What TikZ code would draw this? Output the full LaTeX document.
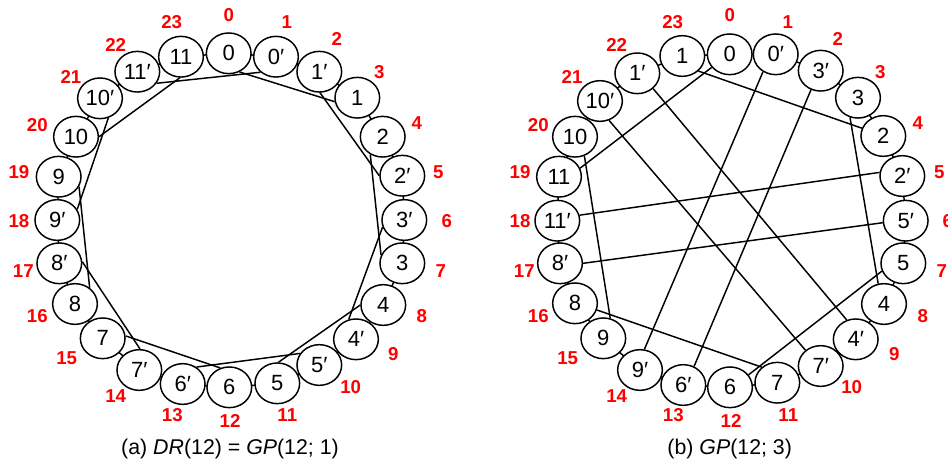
\documentclass[tikz,border=0pt]{standalone}
\usepackage{fontspec}
\setmainfont{Liberation Sans}
\usetikzlibrary{shapes.geometric,backgrounds}
\tikzset{
  vert/.style={ellipse,draw,fill=white,line width=1.1pt,minimum width=33.5pt,minimum height=30.5pt,inner sep=0pt,font=\fontsize{16.5}{18}\selectfont},
  lab/.style={text=red,font=\fontsize{14}{16}\selectfont\bfseries,inner sep=0pt},
  captext/.style={font=\fontsize{16}{18}\selectfont,inner sep=0pt},
  chord/.style={line width=1.1pt}
}
\begin{document}
\begin{tikzpicture}[x=0.75pt,y=-0.75pt]
\useasboundingbox (0,0) rectangle (948,465);
% left diagram nodes
\foreach \p/\x/\y/\t in {0/228.7/53.3/0, 1/276/56.7/0′, 2/319.3/71.7/1′, 3/357.3/97.7/1, 4/382.7/136.7/2, 5/402.3/175.7/2′, 6/404.3/220/3′, 7/402.3/263.3/3, 8/383.3/305/4, 9/356/339.3/4′, 10/319.3/365/5′, 11/277.3/383.3/5, 12/229.3/387.3/6, 13/182.7/384/6′, 14/139.3/370/7′, 15/102.7/338.3/7, 16/75/304/8, 17/59.3/263.3/8′, 18/57.3/220/9′, 19/58.7/176.7/9, 20/76/136.7/10, 21/100/98.3/10′, 22/137.3/71.7/11′, 23/181/56.7/11}
  \node[vert] (a\p) at (\x,\y) {\t};
% right diagram nodes
\foreach \p/\x/\y/\t in {0/729.7/54.3/0, 1/775.7/54.3/0′, 2/820.7/70.7/3′, 3/858/97.7/3, 4/883.3/136/2, 5/902.3/176/2′, 6/905.7/220.7/5′, 7/903.3/263.3/5, 8/884/304/4, 9/855.7/339.3/4′, 10/820.7/366/7′, 11/777.3/382.7/7, 12/730/387.3/6, 13/683.3/385/6′, 14/640/370/9′, 15/603.3/338.3/9, 16/575/303.3/8, 17/560/263.3/8′, 18/557.3/220.7/11′, 19/559/176.7/11, 20/575/136.7/10, 21/600/101/10′, 22/637.3/73.3/1′, 23/682.3/56/1}
  \node[vert] (b\p) at (\x,\y) {\t};
% position labels
\foreach \p/\x/\y in {0/228.7/15, 1/286.7/21.7, 2/336.7/39.3, 3/379.3/71.7, 4/416.7/122.7, 5/438.3/171.7, 6/446.7/220.7, 7/440.7/270.7, 8/421.7/316, 9/393.3/354, 10/350.7/387.3, 11/287.3/415, 12/230/421, 13/172.3/415, 14/115.7/396, 15/66.7/357.7, 16/37.3/316, 17/23.3/270.7, 18/19/220.7, 19/19/171.7, 20/37.3/125, 21/71/77.3, 22/115.7/45, 23/171.7/21.7}
{
  \node[lab] (la\p) at (\x,\y) {\p};
  \node[lab] (lb\p) at (\x+501,\y) {\p};
}
% ring adjacency
\begin{scope}[on background layer]
\foreach \i [evaluate=\i as \j using {int(mod(\i+1,24))}] in {0,...,23}
{
  \draw[chord] (a\i.center) -- (a\j.center);
  \draw[chord] (b\i.center) -- (b\j.center);
}
\end{scope}
% left chords
\draw[chord] (a0.-60) -- (a3.-170);
\draw[chord] (a22.-31) -- (a1.-135);
\draw[chord] (a23.-93) -- (a20.0);
\draw[chord] (a2.-88) -- (a5.180);
\draw[chord] (a4.-125) -- (a7.159);
\draw[chord] (a6.-162) -- (a9.110);
\draw[chord] (a8.180) -- (a11.87);
\draw[chord] (a10.149) -- (a13.51);
\draw[chord] (a12.115) -- (a15.6);
\draw[chord] (a14.88) -- (a17.4);
\draw[chord] (a16.48) -- (a19.-26);
\draw[chord] (a18.28) -- (a21.-67);
% right chords
\draw[chord] (b23.-43) -- (b4.160);
\draw[chord] (b0.-144) -- (b19.22);
\draw[chord] (b1.-126) -- (b14.78);
\draw[chord] (b2.-117) -- (b13.60);
\draw[chord] (b22.-44) -- (b9.115);
\draw[chord] (b21.-65) -- (b10.134);
\draw[chord] (b5.171) -- (b18.14);
\draw[chord] (b6.185) -- (b17.0);
\draw[chord] (b3.-112) -- (b8.106);
\draw[chord] (b20.-64) -- (b15.71);
\draw[chord] (b16.-17) -- (b11.135);
\draw[chord] (b7.-160) -- (b12.34);
% captions
\node[captext] (capa) at (230,449) {(a) \textit{DR}(12) = \textit{GP}(12; 1)};
\node[captext] (capb) at (729.7,449) {(b) \textit{GP}(12; 3)};
\end{tikzpicture}
\end{document}
